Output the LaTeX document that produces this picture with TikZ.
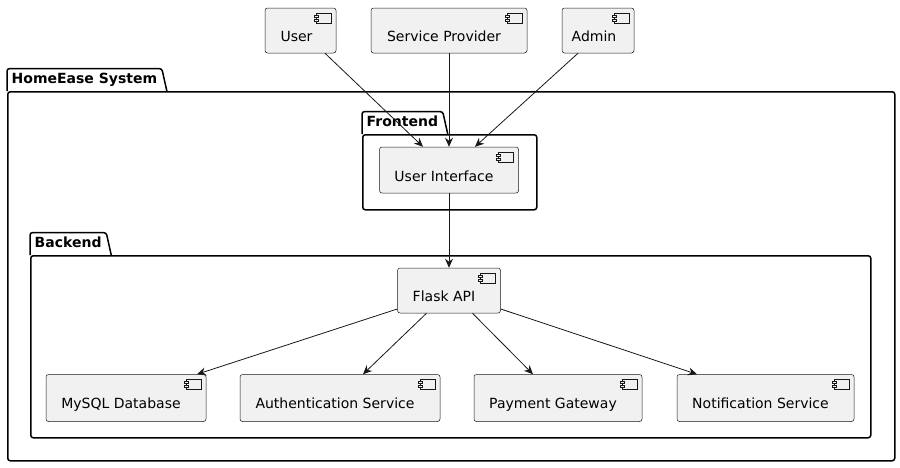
\documentclass[tikz,border=0pt]{standalone}
\usepackage{fontspec}
\setmainfont{DejaVu Sans}
\usetikzlibrary{arrows.meta,calc}
\definecolor{compfill}{HTML}{F1F1F1}
\definecolor{ink}{HTML}{181818}
\tikzset{
  comp/.style={draw=ink, line width=0.5pt, fill=compfill, rounded corners=2.5pt, inner sep=0pt,
    path picture={
      \draw[ink, line width=0.5pt, fill=compfill, sharp corners]
        ([xshift=-20pt,yshift=-5pt]path picture bounding box.north east) rectangle
        ([xshift=-5pt,yshift=-15pt]path picture bounding box.north east);
      \draw[ink, line width=0.5pt, fill=compfill, sharp corners]
        ([xshift=-22pt,yshift=-7pt]path picture bounding box.north east) rectangle
        ([xshift=-18pt,yshift=-9pt]path picture bounding box.north east);
      \draw[ink, line width=0.5pt, fill=compfill, sharp corners]
        ([xshift=-22pt,yshift=-11pt]path picture bounding box.north east) rectangle
        ([xshift=-18pt,yshift=-13pt]path picture bounding box.north east);
    }},
  lbl/.style={font=\fontsize{14pt}{16pt}\selectfont, text=black, inner sep=0pt, anchor=base},
  pkgbox/.style={draw=black, line width=1.5pt, rounded corners=2.5pt, anchor=north west, inner sep=0pt},
  pkgtab/.style={font=\fontsize{14pt}{16pt}\selectfont\bfseries, inner xsep=4.5pt, inner ysep=0pt,
    text height=10.5pt, text depth=3pt, minimum height=22pt, anchor=south west},
  pkgline/.style={draw=black, line width=1.5pt, rounded corners=2.5pt},
  arr/.style={draw=ink, line width=0.8pt, -{Stealth[length=9pt,width=8pt,inset=3pt]}},
}
\begin{document}
\begin{tikzpicture}[x=1pt,y=-1pt]
\useasboundingbox (0,0) rectangle (900,467);

% packages
\node[pkgbox, minimum width=887pt, minimum height=369pt] (home) at (7,91) {};
\node[pkgtab] (homeT) at (7,91) {HomeEase System};
\draw[pkgline] (homeT.south west) -- (homeT.north west) -- (homeT.north east) -- ([xshift=5pt]homeT.south east);

\node[pkgbox, minimum width=174pt, minimum height=75pt] (front) at (362,134) {};
\node[pkgtab] (frontT) at (362,134) {Frontend};
\draw[pkgline] (frontT.south west) -- (frontT.north west) -- (frontT.north east) -- ([xshift=5pt]frontT.south east);

\node[pkgbox, minimum width=840pt, minimum height=182pt] (back) at (30,255) {};
\node[pkgtab] (backT) at (30,255) {Backend};
\draw[pkgline] (backT.south west) -- (backT.north west) -- (backT.north east) -- ([xshift=5pt]backT.south east);

% components
\node[comp, minimum width=71pt, minimum height=45pt] (user) at (300.5,30.5) {};
\node[lbl] (userT) at ($(user.center)+(-4,11)$) {User};
\node[comp, minimum width=156pt, minimum height=45pt] (sp) at (449,30.5) {};
\node[lbl] (spT) at ($(sp.center)+(-5,11)$) {Service Provider};
\node[comp, minimum width=72pt, minimum height=45pt] (admin) at (598,30.5) {};
\node[lbl] (adminT) at ($(admin.center)+(-4,11)$) {Admin};

\node[comp, minimum width=139pt, minimum height=46pt] (ui) at (449,170) {};
\node[lbl] (uiT) at ($(ui.center)+(-5,11)$) {User Interface};

\node[comp, minimum width=103pt, minimum height=45pt] (flask) at (449,290.5) {};
\node[lbl] (flaskT) at ($(flask.center)+(-5,11)$) {Flask API};

\node[comp, minimum width=160pt, minimum height=47pt] (mysql) at (126,398) {};
\node[lbl] (mysqlT) at ($(mysql.center)+(-5,10.5)$) {MySQL Database};
\node[comp, minimum width=200pt, minimum height=47pt] (auth) at (340,398) {};
\node[lbl] (authT) at ($(auth.center)+(-5,10.5)$) {Authentication Service};
\node[comp, minimum width=168pt, minimum height=47pt] (pay) at (558,398) {};
\node[lbl] (payT) at ($(pay.center)+(-5,10.5)$) {Payment Gateway};
\node[comp, minimum width=177pt, minimum height=47pt] (notif) at (765.5,398) {};
\node[lbl] (notifT) at ($(notif.center)+(-5,10.5)$) {Notification Service};

% connectors
\draw[arr] ([xshift=24.5pt]user.south) -- ([xshift=-26pt]ui.north);
\draw[arr] (sp.south) -- (ui.north);
\draw[arr] ([xshift=-20pt]admin.south) -- ([xshift=26pt]ui.north);
\draw[arr] (ui.south) -- (flask.north);
\draw[arr] ([yshift=-18.5pt]flask.west) -- ([xshift=71pt]mysql.north);
\draw[arr] ([xshift=-22.5pt]flask.south) -- ([xshift=23pt]auth.north);
\draw[arr] ([xshift=23.5pt]flask.south) -- ([xshift=-25pt]pay.north);
\draw[arr] ([yshift=-18.5pt]flask.east) -- ([xshift=-68.5pt]notif.north);
\end{tikzpicture}
\end{document}
